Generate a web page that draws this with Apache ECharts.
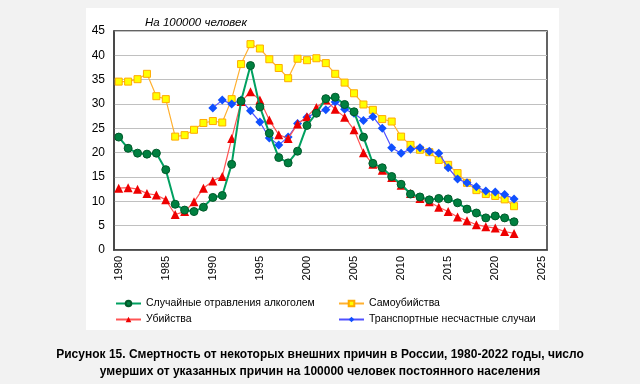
<!DOCTYPE html>
<html><head><meta charset="utf-8">
<script src="https://cdn.jsdelivr.net/npm/echarts@6/dist/echarts.min.js"></script>
<style>html,body{margin:0;padding:0;background:#f2f2f2;}#c{width:640px;height:384px;}</style>
</head><body><div id="c"></div>
<script>
const years = [];
for (let y = 1980; y <= 2025; y++) years.push(String(y));
const alcohol = [23.2,20.9,19.9,19.7,19.9,16.5,9.4,8.2,7.9,8.8,10.8,11.2,17.6,30.6,37.9,29.4,24.0,19.0,17.9,20.3,25.6,28.1,31.1,31.4,29.9,28.4,23.2,17.8,16.9,15.1,13.5,11.5,10.9,10.3,10.6,10.5,9.7,8.4,7.6,6.6,7.0,6.6,5.8,null,null,null];
const suicide = [34.6,34.6,35.1,36.2,31.6,31.0,23.3,23.6,24.7,26.1,26.5,26.2,31.0,38.2,42.3,41.4,39.2,37.4,35.3,39.3,39.0,39.4,38.4,36.2,34.4,32.2,29.9,28.8,26.9,26.4,23.3,21.6,20.6,20.1,18.5,17.5,15.8,13.8,12.3,11.5,11.1,10.4,9.0,null,null,null];
const homicide = [12.7,12.8,12.5,11.6,11.3,10.3,7.3,7.9,9.9,12.7,14.2,15.1,22.9,30.5,32.5,30.8,26.7,23.7,22.9,25.9,27.4,29.3,30.8,28.9,27.3,24.7,20.0,17.6,16.4,14.9,13.3,11.6,10.6,9.9,8.8,7.9,6.8,6.0,5.2,4.8,4.5,3.8,3.4,null,null,null];
const transport = [null,null,null,null,null,null,null,null,null,null,29.2,30.8,30.0,30.8,28.6,26.3,23.0,21.6,23.2,26.0,27.3,28.2,28.8,30.4,28.9,28.1,26.6,27.4,25.0,21.0,19.9,20.7,21.0,20.3,19.9,16.9,14.6,13.8,13.0,12.1,11.9,11.4,10.5,null,null,null];
const names = ['Случайные отравления алкоголем','Самоубийства','Убийства','Транспортные несчастные случаи'];

const chart = echarts.init(document.getElementById('c'));
const F = 'Liberation Sans, Arial, sans-serif';
chart.setOption({
  animation: false,
  textStyle: {fontFamily: F},
  graphic: [{type:'rect', shape:{x:86,y:8,width:473,height:322}, style:{fill:'#ffffff'}, z:-10}],
  title: [
    {text:'На 100000 человек', left:140, top:12, textStyle:{fontFamily:F, fontSize:11.5, fontStyle:'italic', fontWeight:'normal', color:'#000'}},
    {text:'Рисунок 15. Смертность от некоторых внешних причин в России, 1980-2022 годы, число\nумерших от указанных причин на 100000 человек постоянного населения',
     left:'center', top:341,
     textStyle:{fontFamily:F, fontSize:12, fontWeight:'bold', color:'#000', lineHeight:17, align:'center'}}
  ],
  legend: [
    {data:[names[0], names[2]], orient:'vertical', left:110, top:293, itemGap:5, itemWidth:25, itemHeight:7,
     textStyle:{fontFamily:F, fontSize:10.5, color:'#000'}},
    {data:[names[1], names[3]], orient:'vertical', left:333, top:293, itemGap:5, itemWidth:25, itemHeight:7,
     textStyle:{fontFamily:F, fontSize:10.5, color:'#000'}}
  ],
  grid: {left:114, right:93, top:31, bottom:134, show:true, borderColor:'#303030', borderWidth:1.5, backgroundColor:'transparent'},
  xAxis: {
    type:'category', data: years, boundaryGap:true,
    axisLine:{lineStyle:{color:'#404040', width:1.5}},
    axisTick:{show:false},
    axisLabel:{interval:4, rotate:90, fontFamily:F, fontSize:11, color:'#000', margin:6}
  },
  yAxis: {
    type:'value', min:0, max:45, interval:5,
    axisLine:{show:true, lineStyle:{color:'#404040', width:1.5}},
    axisTick:{show:false},
    axisLabel:{fontFamily:F, fontSize:12, color:'#000', margin:9},
    splitLine:{lineStyle:{color:'#c0c0c0', width:1}}
  },
  series: [
    {name:names[1], type:'line', data:suicide, symbol:'rect', symbolSize:7, showAllSymbol:true,
     lineStyle:{color:'#ffb030', width:1.2}, itemStyle:{color:'#ffff00', borderColor:'#ffaa00', borderWidth:1}, z:2},
    {name:names[3], type:'line', data:transport, symbol:'diamond', symbolSize:9, showAllSymbol:true,
     lineStyle:{color:'#5050ff', width:1.2}, itemStyle:{color:'#1050ff', borderColor:'#1050ff', borderWidth:0}, z:3},
    {name:names[2], type:'line', data:homicide, symbol:'triangle', symbolSize:9, showAllSymbol:true,
     lineStyle:{color:'#ff5555', width:1.2}, itemStyle:{color:'#ee0000', borderColor:'#ee0000', borderWidth:0}, z:4},
    {name:names[0], type:'line', data:alcohol, symbol:'circle', symbolSize:8, showAllSymbol:true,
     lineStyle:{color:'#00a060', width:2}, itemStyle:{color:'#008040', borderColor:'#005a2a', borderWidth:1}, z:5}
  ]
});
</script></body></html>
